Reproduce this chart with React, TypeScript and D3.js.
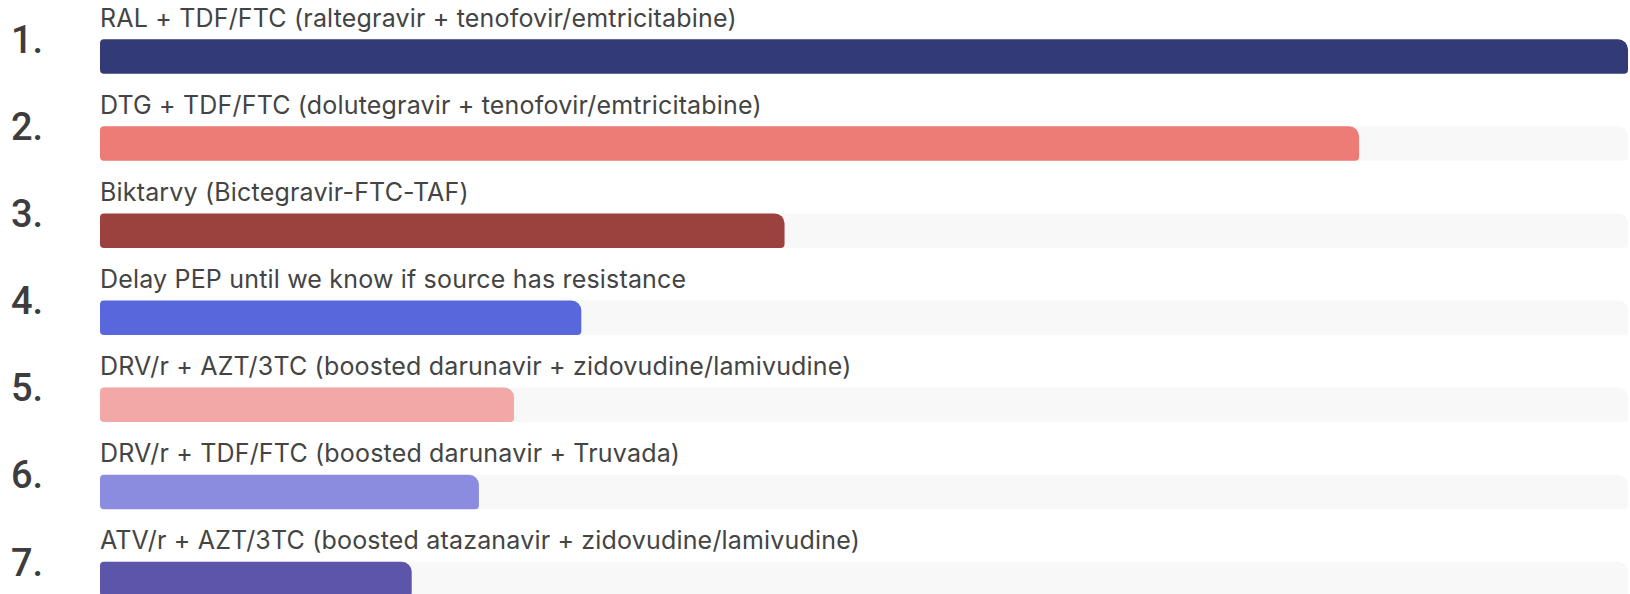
import React from "react";
import * as d3 from "d3";

const categories = [
  "RAL + TDF/FTC (raltegravir + tenofovir/emtricitabine)",
  "DTG + TDF/FTC (dolutegravir + tenofovir/emtricitabine)",
  "Biktarvy (Bictegravir-FTC-TAF)",
  "Delay PEP until we know if source has resistance",
  "DRV/r + AZT/3TC (boosted darunavir + zidovudine/lamivudine)",
  "DRV/r + TDF/FTC (boosted darunavir + Truvada)",
  "ATV/r + AZT/3TC (boosted atazanavir + zidovudine/lamivudine)",
];
const values = [100, 82.4, 44.8, 31.5, 27.1, 24.8, 20.4];
const colors = ["#333b77", "#ed7b76", "#9b423e", "#5967dd", "#f2a8a6", "#8b8ce0", "#5c55aa"];
const rankLabels = ["1.", "2.", "3.", "4.", "5.", "6.", "7."];

const W = 1630;
const H = 594;
const x0 = 100;
const x1 = 1628;
const barH = 34.5;

function barPath(x: number, y: number, w: number, h: number) {
  const rs = 4;
  const rt = Math.min(10, w / 2);
  const p = d3.path();
  p.moveTo(x + rs, y);
  p.lineTo(x + w - rt, y);
  p.arcTo(x + w, y, x + w, y + rt, rt);
  p.lineTo(x + w, y + h - rs);
  p.arcTo(x + w, y + h, x + w - rs, y + h, rs);
  p.lineTo(x + rs, y + h);
  p.arcTo(x, y + h, x, y + h - rs, rs);
  p.lineTo(x, y + rs);
  p.arcTo(x, y, x + rs, y, rs);
  p.closePath();
  return p.toString();
}

export default function App() {
  const xScale = d3.scaleLinear().domain([0, d3.max(values) as number]).range([x0, x1]);
  const yScale = d3.scaleLinear().domain([0, 1]).range([39.2, 39.2 + 87.1]);
  return (
    <svg
      width={W}
      height={H}
      style={{ position: "absolute", left: 0, top: 0, background: "#ffffff" }}
    >
      {categories.map((c, i) => {
        const y = yScale(i);
        return (
          <g key={c}>
            <path d={barPath(x0, y, x1 - x0, barH)} fill="#f8f8f8" />
            <path d={barPath(x0, y, xScale(values[i]) - x0, barH)} fill={colors[i]} />
            <text
              x={x0}
              y={y - 12.5}
              fontFamily="Inter, 'Noto Sans', sans-serif"
              fontSize={25}
              letterSpacing={0.18}
              fill="#444444"
            >
              {c}
            </text>
            <text
              x={11}
              y={y + 13.7}
              fontFamily="Roboto, 'Liberation Sans', Arial, sans-serif"
              fontSize={38}
              fontWeight={500}
              fill="#3d3d3d"
            >
              {rankLabels[i]}
            </text>
          </g>
        );
      })}
    </svg>
  );
}
